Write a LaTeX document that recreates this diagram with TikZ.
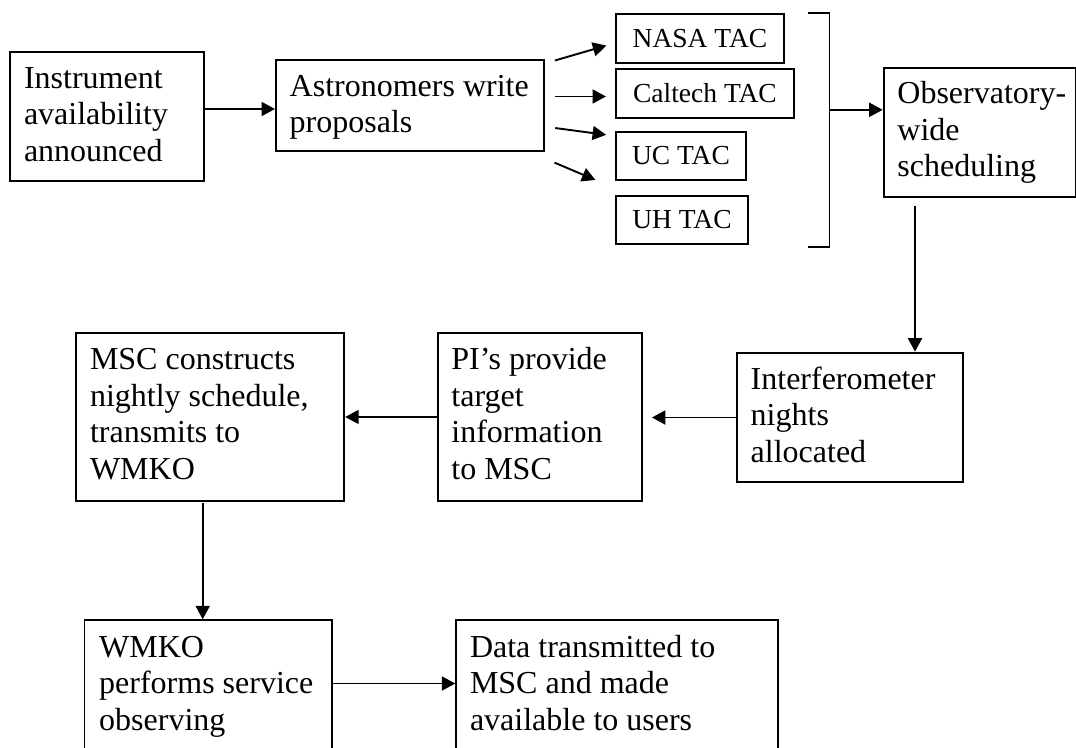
\documentclass[tikz,border=0pt]{standalone}
\usepackage{fontspec}
\setmainfont{Liberation Serif}
\usetikzlibrary{arrows.meta,calc}
\newcommand\mylines[1]{\begin{tabular}[t]{@{}l@{}}#1\end{tabular}}
\begin{document}
\begin{tikzpicture}[x=1pt,y=-1pt,
  box/.style={draw, line width=1.9pt, anchor=north west, inner sep=0pt},
  tac/.style={draw, line width=1.9pt, anchor=north west, inner sep=0pt,
    font=\fontsize{27.5}{32}\selectfont},
  txt/.style={anchor=base west, inner sep=0pt,
    font=\fontsize{32}{36.5}\selectfont},
  conn/.style={line width=1.9pt},
  arr/.style={line width=1.9pt, -{Triangle[length=13.5pt,width=14pt]}}]
\useasboundingbox[fill=white] (0,0) rectangle (1076,747);

% main boxes
\node[box, minimum width=194pt, minimum height=129pt] (inst) at (9.3,51) {};
\node[box, minimum width=268.4pt, minimum height=90.7pt] (astro) at (275,59) {};
\node[box, minimum width=192.5pt, minimum height=129pt] (obs) at (882.7,66.7) {};
\node[box, minimum width=225.7pt, minimum height=129.3pt] (interf) at (736,351.7) {};
\node[box, minimum width=204.3pt, minimum height=167.7pt] (pi) at (436.7,332.3) {};
\node[box, minimum width=268pt, minimum height=167.7pt] (msc) at (75.3,332.3) {};
\node[box, minimum width=247.2pt, minimum height=160pt] (wmko) at (83.5,619.3) {};
\node[box, minimum width=322pt, minimum height=160pt] (data) at (455.3,619.3) {};

% TAC boxes
\node[tac, minimum width=168pt, minimum height=48.7pt] (nasa) at (615,13.3) {NASA TAC};
\node[tac, minimum width=178pt, minimum height=48.4pt] (caltech) at (615,68.3) {Caltech TAC};
\node[tac, minimum width=130pt, minimum height=48.3pt] (uc) at (615,130.7) {UC TAC};
\node[tac, minimum width=131.4pt, minimum height=48pt] (uh) at (615.3,194.7) {UH TAC};

% texts (anchor = baseline of first line)
\node[txt] (inst-t) at ($(inst.north west)+(14.5,37)$) {\mylines{Instrument\\availability\\announced}};
\node[txt] (astro-t) at ($(astro.north west)+(14.5,37)$) {\mylines{Astronomers write\\proposals}};
\node[txt] (obs-t) at ($(obs.north west)+(14.5,37)$) {\mylines{Observatory-\\wide\\scheduling}};
\node[txt] (interf-t) at ($(interf.north west)+(14.5,37.5)$) {\mylines{Interferometer\\nights\\allocated}};
\node[txt] (pi-t) at ($(pi.north west)+(14.5,37.5)$) {\mylines{PI’s provide\\target\\information\\to MSC}};
\node[txt] (msc-t) at ($(msc.north west)+(14.5,37.5)$) {\mylines{MSC constructs\\nightly schedule,\\transmits to\\WMKO}};
\node[txt] (wmko-t) at ($(wmko.north west)+(15.5,38)$) {\mylines{WMKO\\performs service\\observing}};
\node[txt] (data-t) at ($(data.north west)+(14.5,38)$) {\mylines{Data transmitted to\\MSC and made\\available to users}};

% bracket
\coordinate (bt) at (808,13.3);
\coordinate (bb) at (808,247);
\coordinate (bm) at (829.5,109.8);
\coordinate (f4) at (595.5,180);
\draw[conn] (bt) -- ++(21.5,0) |- (bb);

% connectors
\draw[arr] (inst.east |- 0,109) -- (astro.west |- 0,109);
\draw[arr, shorten <=10pt, shorten >=9pt] (astro.east |- 0,63.3) -- (nasa.west |- 0,43);
\draw[arr, shorten <=10pt, shorten >=9pt] (astro.east |- 0,96.5) -- (caltech.west |- 0,96.5);
\draw[arr, shorten <=10pt, shorten >=9pt] (astro.east |- 0,126.7) -- (uc.west |- 0,136);
\draw[arr, shorten <=10pt] (astro.east |- 0,158.7) -- (f4);
\draw[arr] (bm) -- (obs.west |- bm);
\draw[arr, shorten <=8pt] (obs.south -| 915,0) -- (interf.north -| 915,0);
\draw[arr, shorten >=9pt] (interf.west |- 0,417.5) -- (pi.east |- 0,417.5);
\draw[arr] (pi.west |- 0,417) -- (msc.east |- 0,417);
\draw[arr, shorten <=1.5pt] (msc.south -| 202.7,0) -- (wmko.north -| 202.7,0);
\draw[arr] (wmko.east |- 0,683.5) -- (data.west |- 0,683.5);
\end{tikzpicture}
\end{document}
